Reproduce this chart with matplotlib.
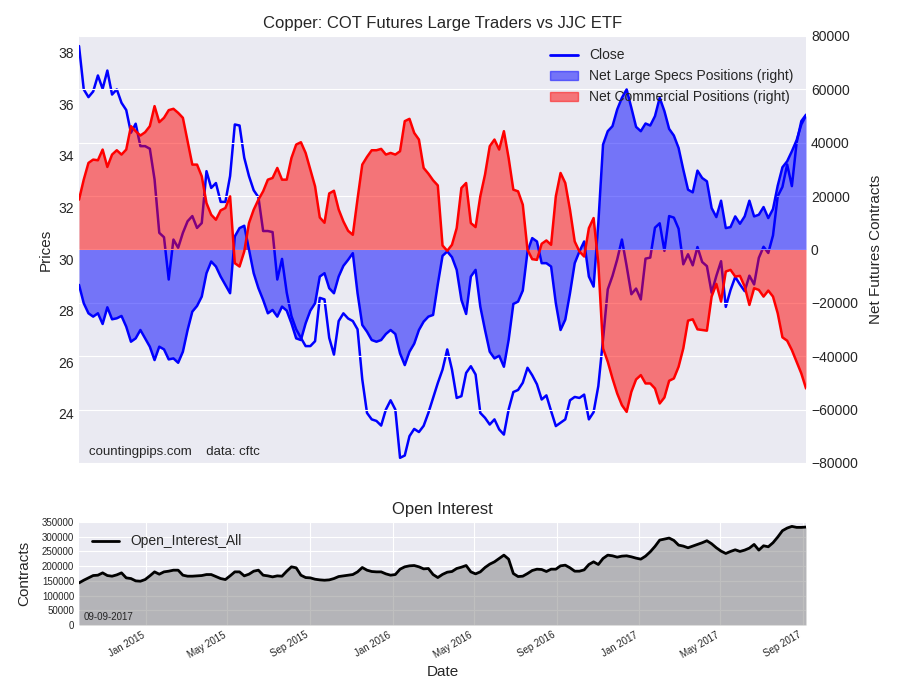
import matplotlib
matplotlib.use("Agg")
import matplotlib.pyplot as plt
import matplotlib.dates as mdates
import matplotlib.patches as mpatches
import pandas as pd

# weekly COT data, Sep 2014 - Sep 2017
dates = pd.date_range(end="2017-09-05", periods=155, freq="7D")

close = [
    38.26, 36.58, 36.28, 36.5, 37.12, 36.6, 37.31, 36.38, 36.58, 36.06,
    35.78, 34.9, 35.25, 34.38, 34.38, 34.28, 33.09, 31.02, 30.85, 29.21,
    30.76, 30.44, 31.02, 31.47, 31.67, 31.21, 31.4, 33.41, 32.76, 32.95,
    32.22, 32.22, 33.22, 35.22, 35.18, 33.93, 33.22, 32.67, 32.4, 31.09,
    31.09, 31.05, 29.21, 30.01, 28.7, 27.79, 27.28, 26.95, 26.63, 26.63,
    26.82, 28.5, 28.44, 26.95, 26.3, 27.6, 27.9, 27.7, 27.6, 27.28,
    25.34, 24.04, 23.79, 23.73, 23.55, 24.17, 24.53, 24.17, 22.3, 22.39,
    23.14, 23.42, 23.3, 23.54, 24.04, 24.62, 25.2, 25.72, 26.5, 25.72,
    24.62, 24.69, 25.59, 25.85, 25.53, 24.04, 23.85, 23.59, 23.79, 23.4,
    23.2, 24.17, 24.85, 24.93, 25.21, 25.79, 25.5, 25.15, 24.56, 24.72,
    24.11, 23.53, 23.66, 23.79, 24.53, 24.66, 24.62, 24.75, 23.79, 24.07,
    25.08, 26.89, 28.83, 29.35, 29.99, 30.76, 29.73, 28.64, 28.86, 28.44,
    30.02, 30.06, 31.22, 31.39, 30.32, 31.67, 31.61, 31.18, 29.8, 30.19,
    29.76, 30.47, 29.89, 29.73, 28.7, 29.35, 29.92, 28.15, 28.8, 29.31,
    29.02, 28.76, 29.36, 29.02, 30.05, 30.48, 30.24, 30.92, 32.44, 32.8,
    33.67, 32.83, 34.51, 35.35, 35.6]

specs = [
    -13270, -20150, -23910, -25160, -23910, -27920, -21660, -26160, -25790, -24910,
    -28920, -34560, -33310, -30170, -33310, -36430, -41440, -36430, -37430, -41190,
    -40820, -42450, -38310, -30170, -23290, -21160, -17650, -8890, -4510, -6390,
    -10140, -13270, -16400, 4880, 8010, 8890, 0, -8890, -14500, -18900,
    -23910, -22660, -25160, -21410, -22910, -27670, -33310, -33930, -27670, -22910,
    -20150, -10140, -8890, -14520, -16400, -10140, -6140, -3880, -1380, -16400,
    -28290, -30800, -33930, -34560, -33930, -31670, -30170, -31670, -38940, -43320,
    -38310, -35310, -30170, -27040, -25160, -24530, -13000, -2380, -750, -2880,
    -7640, -18900, -24160, -10140, -7640, -21410, -30170, -38310, -40820, -39820,
    -43950, -33930, -20410, -19530, -15400, -750, 4260, 3000, -5130, -5130,
    -6390, -20150, -30170, -26290, -16400, -5130, -750, 3000, -10140, -13900,
    9890, 39310, 44320, 46200, 52460, 56840, 59970, 53080, 45940, 44320,
    47200, 46450, 49950, 56840, 51830, 45190, 42700, 38060, 29920, 22410,
    21410, 29550, 26790, 25540, 15530, 12140, 18280, 8010, 8390, 12390,
    9640, 12390, 18280, 12390, 13020, 15900, 11770, 15150, 23910, 30800,
    33050, 36810, 40940, 46830, 50200]

comm = [
    18660, 26160, 32430, 33680, 33430, 37440, 30920, 35560, 37180, 35560,
    37440, 46200, 44320, 42700, 43940, 46200, 53710, 47700, 49330, 52210,
    52710, 51200, 49330, 40560, 31800, 31800, 27420, 17400, 13020, 11140,
    14650, 15530, 19910, -5130, -6390, -750, 9890, 14900, 18660, 21790,
    26160, 26790, 30550, 26160, 26160, 34310, 39310, 40190, 36180, 29930,
    23660, 12000, 10000, 21000, 22000, 15000, 10500, 7000, 5500, 19000,
    31800, 34680, 37180, 37180, 37690, 35560, 36180, 35560, 36810, 48080,
    48950, 43690, 41190, 30550, 28420, 25920, 24000, 1500, -500, 1750,
    8010, 23040, 24910, 9890, 8390, 19910, 28040, 38690, 41190, 37440,
    44320, 34310, 22410, 21790, 16780, -130, -3630, -3880, 2130, 3380,
    1750, 19910, 28670, 24910, 14900, 3000, -750, -2630, 8010, 11770,
    -5130, -37060, -42070, -48330, -53960, -58340, -60850, -53340, -48700, -47080,
    -50200, -50200, -52080, -57710, -55460, -49200, -48330, -43950, -37060, -26670,
    -26160, -29920, -30170, -30420, -17650, -12900, -19530, -8260, -7640, -10140,
    -9890, -13900, -20780, -14520, -15150, -17650, -15400, -17650, -23910, -32930,
    -34180, -37690, -42070, -46450, -52080]

open_interest = [
    143100, 152200, 160200, 168100, 169300, 177200, 168100, 165900, 170400, 177200,
    160200, 157900, 150000, 148800, 154500, 167000, 180600, 172700, 180600, 182900,
    186300, 186300, 169300, 165900, 165900, 167000, 168100, 171500, 171500, 164700,
    157900, 154500, 167000, 180600, 180600, 167000, 172700, 182900, 186300, 169300,
    167000, 163600, 167000, 165900, 182900, 197700, 194300, 169300, 161300, 160200,
    155600, 153400, 152200, 153400, 157900, 164700, 167000, 169300, 171500, 180600,
    195400, 186300, 181800, 180600, 180600, 173800, 169300, 171500, 189700, 197700,
    201100, 202200, 197700, 190800, 192000, 171500, 161300, 172000, 179500, 181800,
    192000, 196500, 202200, 180600, 173800, 180600, 195400, 206800, 214700, 226100,
    237400, 223800, 174900, 164700, 165900, 174900, 185200, 189700, 188600, 181800,
    189700, 189700, 201100, 203300, 194300, 182900, 182900, 187400, 205600, 214700,
    205600, 226100, 237400, 235100, 230600, 234000, 235100, 231700, 227200, 223800,
    234000, 248800, 267000, 288500, 292000, 295400, 287400, 271500, 268100, 262400,
    268100, 273800, 279500, 286300, 276000, 262400, 251100, 243100, 249900, 255600,
    249900, 254500, 261300, 273800, 254500, 269200, 265800, 279500, 298800, 320400,
    329400, 335100, 331700, 331700, 332800]

plt.style.use("seaborn-v0_8-darkgrid")
plt.rcParams["font.family"] = ["Liberation Sans", "DejaVu Sans"]

fig = plt.figure(figsize=(9, 7), dpi=100)

# --- top panel: price + net positions
ax = fig.add_axes([0.0878, 0.3386, 0.8078, 0.61])
ax.plot(dates, close, color="blue", lw=1.8, label="Close")
ax.set_ylim(22.1, 38.65)
ax.set_yticks(range(24, 39, 2))
ax.set_xlim(dates[0], dates[-1])
ax.set_xticks([])
ax.grid(False)
ax.set_ylabel("Prices", fontsize=11)
ax.tick_params(axis="y", labelsize=10)
ax.text(0.014, 0.012, "countingpips.com    data: cftc", transform=ax.transAxes,
        fontsize=9.5, va="bottom")

ax2 = ax.twinx()
ax2.fill_between(dates, 0, specs, color="blue", alpha=0.5, lw=0)
ax2.plot(dates, specs, color="blue", lw=1.8)
ax2.fill_between(dates, 0, comm, color="red", alpha=0.5, lw=0)
ax2.plot(dates, comm, color="red", lw=1.8)
ax2.set_ylim(-80000, 80000)
ax2.set_xlim(dates[0], dates[-1])
ax2.set_xticks([])
ax2.grid(True, axis="y", color="white")
ax2.set_ylabel("Net Futures Contracts", fontsize=11, labelpad=8)
ax2.tick_params(axis="y", labelsize=10)
ax.set_title("Copper: COT Futures Large Traders vs JJC ETF", fontsize=12)

handles = [plt.Line2D([], [], color="blue", lw=2),
           mpatches.Patch(color="blue", alpha=0.5),
           mpatches.Patch(color="red", alpha=0.5)]
labels = ["Close", "Net Large Specs Positions (right)", "Net Commercial Positions (right)"]
ax2.legend(handles, labels, loc="upper right", frameon=False, fontsize=10)

# --- bottom panel: open interest
bx = fig.add_axes([0.0878, 0.1071, 0.8078, 0.1472])
bx.fill_between(dates, 0, open_interest, color="gray", alpha=0.5, lw=0)
bx.plot(dates, open_interest, color="black", lw=2, label="Open_Interest_All")
bx.set_ylim(0, 350000)
bx.set_yticks(range(0, 350001, 50000))
bx.set_xlim(dates[0], dates[-1])
bx.xaxis.set_major_locator(mdates.MonthLocator(bymonth=[1, 5, 9]))
bx.xaxis.set_major_formatter(mdates.DateFormatter("%b %Y"))
plt.setp(bx.get_xticklabels(), rotation=30, ha="right", fontsize=7)
bx.tick_params(axis="y", labelsize=7)
bx.set_title("Open Interest", fontsize=12)
bx.set_ylabel("Contracts", fontsize=11, labelpad=8)
bx.set_xlabel("Date", fontsize=11)
bx.legend(loc="upper left", frameon=False, fontsize=10)
bx.text(0.006, 0.03, "09-09-2017", transform=bx.transAxes, fontsize=7, va="bottom")

fig.savefig("out.png", dpi=100)
